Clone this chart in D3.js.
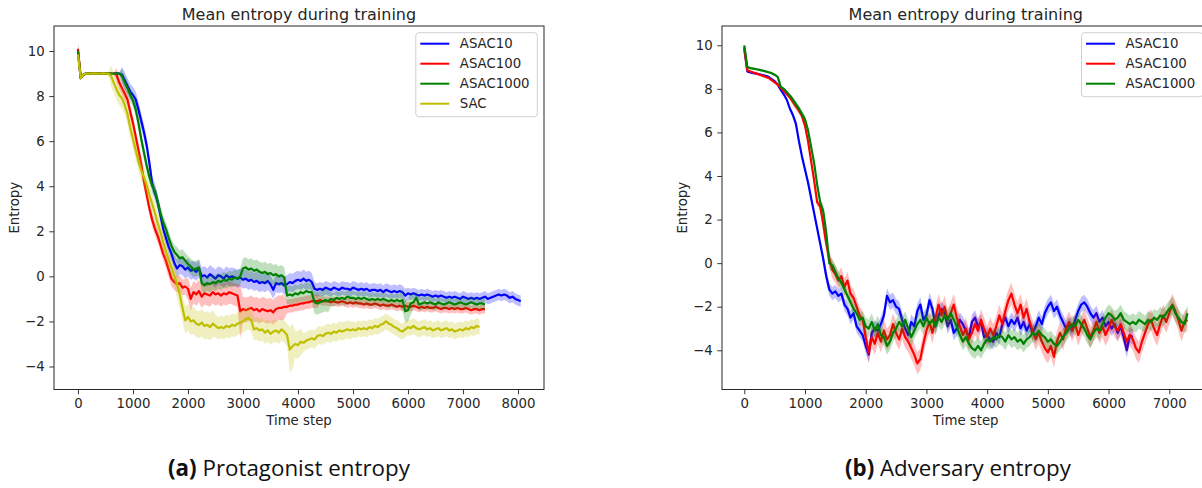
<!DOCTYPE html>
<html><head><meta charset="utf-8">
<script src="https://cdn.jsdelivr.net/npm/d3@7"></script>
<style>
body{margin:0;background:#fff}
svg{display:block}
</style>
</head><body>
<svg id="chart" width="1202" height="488"></svg>
<script>
// ---------------- DATA ----------------
const STEP = 50; // time-step spacing of the samples below
const seriesA = ["ASAC10", "ASAC100", "ASAC1000", "SAC"];
const seriesB = ["ASAC10", "ASAC100", "ASAC1000"];
const xTicksA = [0, 1000, 2000, 3000, 4000, 5000, 6000, 7000, 8000];
const xTicksB = [0, 1000, 2000, 3000, 4000, 5000, 6000, 7000];
const yTicks = [-4, -2, 0, 2, 4, 6, 8, 10];

// (a) Protagonist entropy: mean values, one sample every 50 steps
const protoASAC10 = [
  9.95, 8.8, 8.95, 9.0, 9.0, 9.01, 9.0, 9.0, 9.01, 9.0,
  9.0, 9.01, 9.0, 9.0, 9.01, 9.0, 8.95, 8.7, 8.45, 8.2,
  8.05, 7.85, 7.4, 6.9, 6.4, 5.8, 5.0, 4.1, 3.7, 3.3,
  2.7, 2.1, 1.7, 1.3, 1.0, 0.6, 0.35, 0.5, 0.45, 0.3,
  0.4, 0.25, 0.3, 0.2, 0.35, 0.0, 0.05, -0.05, 0.1, 0.0,
  -0.1, 0.05, 0.0, -0.1, 0.05, -0.05, 0.0, -0.05, -0.1, -0.05,
  -0.15, -0.1, -0.2, -0.15, -0.25, -0.2, -0.3, -0.25, -0.3, -0.2,
  -0.35, -0.6, -0.3, -0.35, -0.3, -0.4, -0.35, -0.25, -0.3, -0.2,
  -0.15, -0.2, -0.1, -0.2, -0.15, -0.25, -0.55, -0.6, -0.55, -0.6,
  -0.5, -0.55, -0.6, -0.5, -0.55, -0.6, -0.5, -0.55, -0.55, -0.6,
  -0.5, -0.55, -0.6, -0.55, -0.6, -0.55, -0.65, -0.6, -0.6, -0.65,
  -0.6, -0.7, -0.6, -0.65, -0.7, -0.65, -0.7, -0.65, -0.7, -0.85,
  -0.75, -0.8, -0.75, -0.8, -0.85, -0.8, -0.85, -0.8, -0.85, -0.9,
  -0.85, -0.9, -0.85, -0.9, -0.95, -0.9, -0.95, -0.9, -0.95, -1.0,
  -0.9, -0.95, -1.0, -0.95, -1.0, -0.95, -1.0, -0.95, -0.9, -1.0,
  -0.95, -0.9, -0.85, -0.8, -0.85, -0.8, -0.85, -0.95, -0.9, -1.0,
  -1.05, -1.1
];
const protoASAC100 = [
  10.1, 8.8, 8.95, 9.0, 9.0, 9.0, 9.01, 9.0, 9.0, 9.01,
  9.0, 9.0, 9.0, 9.0, 8.95, 8.6, 8.35, 8.1, 7.85, 7.3,
  6.8, 6.2, 5.6, 5.0, 4.2, 3.6, 3.0, 2.5, 2.1, 1.8,
  1.4, 1.0, 0.7, 0.3, -0.1, -0.25, -0.35, -0.3, -0.5, -0.45,
  -0.55, -1.0, -0.7, -0.8, -0.65, -0.9, -0.75, -0.8, -0.85, -0.7,
  -0.8, -0.75, -0.85, -0.75, -0.8, -0.7, -0.75, -0.8, -0.85, -1.55,
  -1.45, -1.5, -1.45, -1.4, -1.5, -1.45, -1.55, -1.45, -1.5, -1.55,
  -1.5, -1.6, -1.45, -1.4, -1.4, -1.35, -1.35, -1.3, -1.3, -1.25,
  -1.25, -1.2, -1.2, -1.15, -1.15, -1.1, -1.1, -1.1, -1.05, -1.1,
  -1.1, -1.1, -1.15, -1.1, -1.15, -1.15, -1.1, -1.15, -1.2, -1.15,
  -1.2, -1.15, -1.2, -1.2, -1.25, -1.2, -1.25, -1.25, -1.2, -1.25,
  -1.3, -1.25, -1.3, -1.3, -1.25, -1.3, -1.35, -1.3, -1.35, -1.3,
  -1.35, -1.35, -1.3, -1.35, -1.4, -1.35, -1.4, -1.35, -1.4, -1.4,
  -1.35, -1.4, -1.45, -1.4, -1.4, -1.45, -1.4, -1.45, -1.4, -1.45,
  -1.45, -1.4, -1.45, -1.5, -1.45, -1.45, -1.5, -1.45, -1.45
];
const protoASAC1000 = [
  10.0, 8.8, 8.95, 9.0, 9.0, 9.01, 9.0, 9.0, 9.01, 9.0,
  9.0, 9.0, 9.01, 9.0, 9.0, 9.0, 8.9, 8.6, 8.35, 8.05,
  7.8, 7.4, 6.8, 6.1, 5.5, 4.9, 4.4, 4.0, 3.8, 3.3,
  2.8, 2.4, 2.1, 1.7, 1.35, 1.1, 0.95, 0.8, 0.85, 0.7,
  0.55, 0.45, 0.3, 0.35, 0.4, -0.3, -0.4, -0.3, -0.35, -0.25,
  -0.3, -0.2, -0.25, -0.15, -0.2, -0.1, -0.15, -0.05, -0.1, 0.0,
  0.35, 0.4, 0.3, 0.35, 0.25, 0.3, 0.2, 0.15, 0.2, 0.1,
  0.15, 0.05, 0.1, 0.0, 0.05, -0.05, -0.85, -0.8, -0.85, -0.75,
  -0.8, -0.7, -0.75, -0.65, -0.7, -0.7, -1.15, -1.2, -1.15, -1.1,
  -1.05, -1.1, -1.0, -1.05, -0.95, -1.0, -0.95, -1.0, -0.9, -0.95,
  -0.95, -1.0, -0.95, -1.0, -0.95, -1.0, -1.05, -1.0, -1.05, -1.0,
  -1.05, -1.0, -1.05, -1.1, -1.05, -1.1, -1.05, -1.1, -1.05, -1.55,
  -1.5, -1.2, -1.15, -0.95, -1.25, -1.2, -1.15, -1.2, -1.15, -1.2,
  -1.25, -1.15, -1.2, -1.25, -1.2, -1.15, -1.2, -1.25, -1.2, -1.15,
  -1.2, -1.25, -1.2, -1.15, -1.2, -1.25, -1.2, -1.2, -1.25
];
const protoSAC = [
  9.85, 8.8, 8.95, 9.0, 9.0, 9.0, 9.01, 9.0, 9.0, 9.01,
  9.0, 9.0, 8.9, 8.6, 8.3, 8.05, 7.9, 7.6, 7.2, 6.6,
  6.1, 5.6, 5.1, 4.7, 4.4, 4.05, 3.6, 3.2, 2.8, 2.35,
  1.95, 1.5, 1.1, 0.75, 0.4, 0.05, -0.35, -0.8, -1.4, -1.95,
  -1.8, -2.0, -1.95, -2.1, -2.15, -2.05, -2.2, -2.15, -2.25, -2.1,
  -2.2, -2.3, -2.25, -2.3, -2.2, -2.25, -2.15, -2.2, -2.1, -2.05,
  -2.0, -1.9, -1.85, -1.95, -2.35, -2.3, -2.4, -2.35, -2.5, -2.4,
  -2.55, -2.45, -2.4, -2.5, -2.35, -2.45, -2.6, -3.25, -3.1, -3.0,
  -3.05, -2.9, -2.95, -2.85, -2.8, -2.75, -2.8, -2.65, -2.6, -2.65,
  -2.55, -2.5, -2.55, -2.45, -2.5, -2.4, -2.45, -2.4, -2.35, -2.4,
  -2.35, -2.4, -2.3, -2.35, -2.3, -2.35, -2.25, -2.3, -2.2, -2.25,
  -2.15, -2.1, -2.0, -2.1, -2.15, -2.25, -2.3, -2.4, -2.45, -2.35,
  -2.25, -2.3, -2.2, -2.3, -2.35, -2.3, -2.25, -2.35, -2.3, -2.4,
  -2.35, -2.3, -2.4, -2.35, -2.3, -2.4, -2.35, -2.45, -2.4, -2.35,
  -2.4, -2.3, -2.35, -2.25, -2.3, -2.2, -2.25
];
// shaded band half-widths: [from time step, half-width]
const protoASAC10Band = [[0, 0.3], [50, 0.08], [150, 0.04], [800, 0.35], [1800, 0.4], [4300, 0.3], [6000, 0.25]];
const protoASAC100Band = [[0, 0.3], [50, 0.08], [150, 0.04], [700, 0.3], [1600, 0.35], [2000, 0.5], [2950, 1.2], [3000, 0.55], [3800, 0.3], [4400, 0.2]];
const protoASAC1000Band = [[0, 0.3], [50, 0.08], [150, 0.04], [800, 0.3], [1800, 0.35], [3000, 0.45], [3800, 0.4], [4300, 0.5], [4600, 0.3], [5900, 0.5], [6100, 0.3], [6500, 0.25]];
const protoSACBand = [[0, 0.3], [50, 0.08], [150, 0.04], [600, 0.45], [1800, 0.6], [2500, 0.5], [3850, 1.0], [3950, 0.6], [4100, 0.4], [5000, 0.35]];

// (b) Adversary entropy
const advASAC10 = [
  9.9, 8.8, 8.75, 8.72, 8.7, 8.67, 8.63, 8.6, 8.55, 8.45,
  8.35, 8.2, 7.95, 7.75, 7.5, 7.1, 6.8, 6.4, 5.6, 4.9,
  4.3, 3.7, 3.0, 2.3, 1.6, 0.9, 0.2, -0.6, -1.2, -1.4,
  -1.3, -1.5, -1.4, -1.9, -2.1, -2.5, -2.3, -2.9, -3.1, -3.3,
  -3.8, -4.2, -3.2, -3.0, -3.1, -2.8, -2.4, -1.5, -1.8, -1.7,
  -2.0, -2.1, -2.6, -3.0, -3.3, -2.7, -2.9, -2.2, -1.9, -2.6,
  -2.4, -1.7, -2.1, -2.9, -2.4, -2.1, -2.3, -2.9, -2.6, -3.2,
  -3.0, -2.6, -2.8, -3.1, -3.4, -2.7, -2.5, -2.9, -2.7, -3.4,
  -3.3, -3.5, -3.6, -3.2, -3.4, -2.8, -2.5, -2.9, -2.6, -2.8,
  -2.5, -3.0, -2.7, -3.1, -2.8, -3.2, -2.9, -2.5, -2.8, -2.3,
  -2.0, -1.8, -2.2, -2.0, -2.4, -2.7, -3.0, -2.8, -3.1, -2.6,
  -2.2, -1.9, -1.8, -2.0, -2.3, -2.5, -2.3, -2.7, -2.5, -2.9,
  -2.7, -3.0, -2.8, -3.2, -2.9, -3.4, -4.0, -3.3, -3.4
];
const advASAC100 = [
  9.8, 8.85, 8.8, 8.75, 8.7, 8.65, 8.6, 8.55, 8.5, 8.4,
  8.3, 8.2, 8.05, 7.9, 7.75, 7.6, 7.4, 7.2, 7.0, 6.75,
  6.3, 5.6, 4.7, 3.8, 2.8, 2.6, 1.8, 0.9, 0.2, -0.3,
  -0.5, -0.8, -0.6, -1.1, -0.8, -1.4, -1.6, -2.0, -2.4, -2.6,
  -3.4, -4.1, -3.4, -3.7, -3.2, -3.6, -3.1, -3.5, -3.3, -2.8,
  -3.2, -3.5, -3.0, -3.4, -3.6, -3.9, -4.2, -4.6, -4.4, -3.7,
  -3.1, -2.7, -3.2, -2.5, -1.9, -2.4, -2.0, -2.6, -2.3, -1.9,
  -2.5, -2.9, -3.3, -3.0, -3.5, -3.2, -2.8, -3.1, -2.6, -3.0,
  -3.4, -3.0, -3.3, -2.9, -2.4, -2.8, -2.2, -1.7, -1.4, -1.9,
  -2.3, -1.9, -2.5, -2.1, -2.7, -3.1, -3.5, -3.2, -3.6, -3.9,
  -4.1, -3.8, -4.3, -3.6, -3.2, -3.5, -3.0, -2.7, -3.1, -2.8,
  -3.3, -2.9, -2.6, -3.0, -3.4, -3.1, -2.7, -3.2, -2.9, -3.3,
  -3.0, -2.6, -2.9, -3.1, -2.8, -3.2, -3.6, -3.3, -3.5, -3.9,
  -4.1, -3.6, -3.2, -2.8, -2.6, -3.0, -3.3, -2.8, -2.4, -2.7,
  -2.3, -1.9, -2.2, -2.6, -3.1, -2.7, -2.6
];
const advASAC1000 = [
  10.0, 9.0, 8.95, 8.93, 8.9, 8.87, 8.84, 8.8, 8.76, 8.72,
  8.65, 8.55, 8.1, 8.0, 7.85, 7.7, 7.5, 7.3, 7.1, 6.85,
  6.6, 6.1, 5.35, 4.6, 3.6, 2.8, 2.4, 1.4, 0.0, -0.1,
  -0.4, -0.7, -0.9, -1.2, -1.5, -1.8, -2.1, -2.3, -2.6, -2.5,
  -2.9, -3.0, -2.7, -3.1, -2.8, -3.3, -3.4, -3.8, -3.6, -3.2,
  -3.0, -2.7, -2.9, -2.6, -3.0, -3.4, -3.1, -2.8, -2.6, -2.9,
  -2.5, -2.8, -2.6, -2.9, -2.5, -2.7, -2.4, -2.6, -2.3, -2.6,
  -2.9, -3.3, -3.6, -3.4, -3.7, -3.9, -4.0, -3.8, -4.0, -3.7,
  -3.5, -3.6, -3.4, -3.5, -3.3, -3.4, -3.6, -3.3, -3.5, -3.4,
  -3.6, -3.5, -3.7, -3.5, -3.4, -3.2, -3.3, -3.1, -3.3, -3.4,
  -3.6, -3.5, -3.7, -3.8, -3.6, -3.4, -3.2, -3.0, -2.8, -2.9,
  -2.6, -2.8, -3.0, -3.3, -3.5, -3.2, -3.0, -3.1, -2.8, -2.5,
  -2.3, -2.4, -2.6, -2.5, -2.3, -2.6, -2.7, -2.8, -2.7, -2.8,
  -2.6, -2.7, -2.8, -2.6, -2.7, -2.5, -2.6, -2.4, -2.5, -2.3,
  -2.1, -1.95, -2.3, -2.5, -2.7, -2.8, -2.3
];
const advASAC10Band = [[0, 0.1], [50, 0.05], [800, 0.15], [1300, 0.3], [2000, 0.35]];
const advASAC100Band = [[0, 0.1], [50, 0.05], [800, 0.15], [1300, 0.4], [2000, 0.5]];
const advASAC1000Band = [[0, 0.1], [50, 0.05], [800, 0.15], [1300, 0.3], [2000, 0.4]];

// ---------------- STYLE / LAYOUT ----------------
const colorOf = {ASAC10: "#0000ff", ASAC100: "#ff0000", ASAC1000: "#008000", SAC: "#bfbf00"};
const panels = [
  {frame: [54, 544, 26, 389.5], xDom: [-436, 8473], yDom: [-5.02, 11.11], xTicks: xTicksA,
   names: seriesA, values: [protoASAC10, protoASAC100, protoASAC1000, protoSAC],
   bands: [protoASAC10Band, protoASAC100Band, protoASAC1000Band, protoSACBand],
   legendRight: 537.3},
  {frame: [722, 1209.6, 26, 389.5], xDom: [-367, 7664], yDom: [-5.8, 10.885], xTicks: xTicksB,
   names: seriesB, values: [advASAC10, advASAC100, advASAC1000],
   bands: [advASAC10Band, advASAC100Band, advASAC1000Band],
   legendRight: 1203}
];

const FONT = "'DejaVu Sans', sans-serif";
const svg = d3.select("#chart");
const fmt = d => d < 0 ? "\u2212" + Math.abs(d) : String(d);
function bandAt(segs, t) { let s = segs[0][1]; for (const [t0, w] of segs) if (t >= t0) s = w; return s; }

panels.forEach((p, pi) => {
  const [fx0, fx1, fy0, fy1] = p.frame;
  const x = d3.scaleLinear().domain(p.xDom).range([fx0, fx1]);
  const y = d3.scaleLinear().domain(p.yDom).range([fy1, fy0]);
  const g = svg.append("g");
  const clipId = "clip" + pi;
  g.append("clipPath").attr("id", clipId).append("rect")
    .attr("x", fx0).attr("y", fy0).attr("width", fx1 - fx0).attr("height", fy1 - fy0);
  const plot = g.append("g").attr("clip-path", `url(#${clipId})`);

  p.names.forEach((name, si) => {
    const data = p.values[si].map((v, i) => ({t: i * STEP, v, w: bandAt(p.bands[si], i * STEP)}));
    plot.append("path").datum(data)
      .attr("d", d3.area().x(d => x(d.t)).y0(d => y(d.v - d.w)).y1(d => y(d.v + d.w)))
      .attr("fill", colorOf[name]).attr("fill-opacity", 0.25).attr("stroke", "none");
    plot.append("path").datum(data)
      .attr("d", d3.line().x(d => x(d.t)).y(d => y(d.v)))
      .attr("fill", "none").attr("stroke", colorOf[name]).attr("stroke-width", 2.2)
      .attr("stroke-linejoin", "round");
  });

  // axes
  const xa = g.append("g").attr("transform", `translate(0,${fy1})`)
    .call(d3.axisBottom(x).tickValues(p.xTicks).tickFormat(fmt).tickSize(4.7).tickPadding(4.7));
  const ya = g.append("g").attr("transform", `translate(${fx0},0)`)
    .call(d3.axisLeft(y).tickValues(yTicks).tickFormat(fmt).tickSize(4.7).tickPadding(4.7));
  [xa, ya].forEach(a => {
    a.select(".domain").remove();
    a.selectAll("line").attr("stroke", "#222").attr("stroke-width", 0.9);
    a.selectAll("text").style("font-family", FONT).style("font-size", "13.3px").attr("fill", "#262626");
  });

  // frame
  g.append("rect").attr("x", fx0).attr("y", fy0).attr("width", fx1 - fx0).attr("height", fy1 - fy0)
    .attr("fill", "none").attr("stroke", "#262626").attr("stroke-width", 1);

  const cx = (fx0 + fx1) / 2;
  g.append("text").attr("x", cx).attr("y", 19.5).attr("text-anchor", "middle")
    .style("font-family", FONT).style("font-size", "16px").attr("fill", "#262626").text("Mean entropy during training");
  g.append("text").attr("x", cx).attr("y", 425).attr("text-anchor", "middle")
    .style("font-family", FONT).style("font-size", "13.3px").attr("fill", "#262626").text("Time step");
  const ylx = fx0 - 35;
  g.append("text").attr("transform", `translate(${ylx},${(fy0 + fy1) / 2}) rotate(-90)`)
    .attr("text-anchor", "middle").style("font-family", FONT).style("font-size", "13.3px")
    .attr("fill", "#262626").text("Entropy");

  // legend
  const lg = g.append("g");
  const rowH = 20, lTop = fy0 + 6.7;
  const boxW = 121.5, boxH = 8 + rowH * p.names.length - 4;
  lg.append("rect").attr("x", p.legendRight - boxW).attr("y", lTop).attr("width", boxW).attr("height", boxH)
    .attr("rx", 3).attr("fill", "#fff").attr("fill-opacity", 0.8).attr("stroke", "#d0d0d0").attr("stroke-width", 1);
  p.names.forEach((name, si) => {
    const yy = lTop + 11 + si * rowH;
    const lx = p.legendRight - boxW + 4.5;
    lg.append("line").attr("x1", lx).attr("x2", lx + 29).attr("y1", yy).attr("y2", yy)
      .attr("stroke", colorOf[name]).attr("stroke-width", 2);
    lg.append("text").attr("x", lx + 39.5).attr("y", yy + 4.7)
      .style("font-family", FONT).style("font-size", "13.3px")
      .attr("fill", "#262626").text(name);
  });
});

// captions
const captions = [
  {x: 168, w: 242, tag: "(a)", rest: " Protagonist entropy"},
  {x: 845, w: 226, tag: "(b)", rest: " Adversary entropy"}
];
captions.forEach(c => {
  const t = svg.append("text").attr("x", c.x).attr("y", 476)
    .style("font-family", "'Open Sans', sans-serif").style("font-size", "17px").attr("fill", "#111");
  t.append("tspan").style("font-weight", "bold").text(c.tag);
  t.append("tspan").text(c.rest);
  const w = t.node().getComputedTextLength();
  t.style("font-size", (17 * c.w / w) + "px");
});
</script>
</body></html>
